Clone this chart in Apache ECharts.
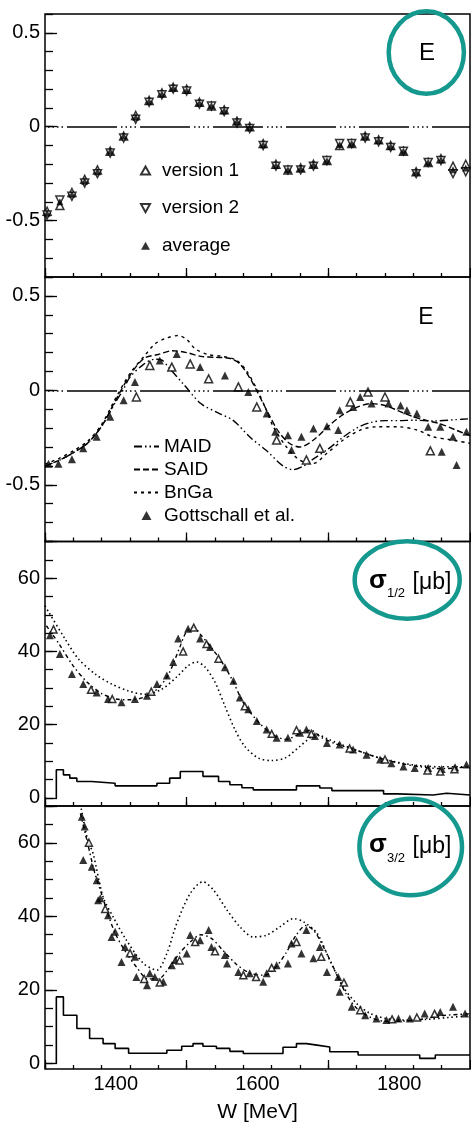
<!DOCTYPE html>
<html><head><meta charset="utf-8">
<script src="https://cdn.jsdelivr.net/npm/echarts@6/dist/echarts.min.js"></script>
<style>html,body{margin:0;padding:0;background:#fff}#c{width:471px;height:1124px}</style>
</head><body><div id="c"></div>
<script>
// ---------- X axis labels ----------
const xTickLabels = [1400, 1600, 1800];
const eTickLabels = [-0.5, 0, 0.5];
const sigmaTickLabels = [0, 20, 40, 60];

// ---------- Panel 1: E (version 1, version 2, average) ----------
const p1W = [1303,1321,1338,1356,1374,1392,1411,1428,1447,1465,1481,1500,1518,1535,1553,1571,1589,1608,1626,1643,1661,1679,1698,1716,1733,1752,1771,1788,1806,1824,1841,1859,1876,1894];
const p1Avg = [-0.46,-0.40,-0.36,-0.29,-0.24,-0.13,-0.05,0.05,0.135,0.174,0.206,0.193,0.126,0.112,0.085,0.028,-0.004,-0.096,-0.206,-0.229,-0.223,-0.202,-0.181,-0.096,-0.09,-0.052,-0.074,-0.105,-0.131,-0.243,-0.19,-0.176,-0.229,-0.22];
const p1V1 = [-0.45,-0.42,-0.35,-0.28,-0.23,-0.13,-0.05,0.06,0.14,0.18,0.21,0.20,0.13,0.11,0.09,0.03,0.00,-0.09,-0.20,-0.23,-0.22,-0.20,-0.18,-0.10,-0.09,-0.05,-0.07,-0.10,-0.13,-0.24,-0.19,-0.17,-0.21,-0.20];
const p1V2 = [-0.47,-0.39,-0.37,-0.30,-0.25,-0.14,-0.06,0.04,0.13,0.17,0.20,0.19,0.12,0.11,0.08,0.02,-0.01,-0.10,-0.21,-0.23,-0.23,-0.21,-0.18,-0.09,-0.09,-0.06,-0.08,-0.11,-0.13,-0.25,-0.19,-0.18,-0.25,-0.24];

// ---------- Panel 2: E with models ----------
const maidW = [1300,1320,1340,1360,1380,1400,1410,1420,1440,1455,1465,1475,1495,1520,1545,1566,1590,1613,1636,1650,1665,1680,1700,1720,1740,1760,1780,1800,1820,1850,1880,1900];
const maidE = [-0.40,-0.37,-0.33,-0.28,-0.19,-0.06,0.0,0.07,0.14,0.165,0.16,0.12,0.035,-0.07,-0.12,-0.16,-0.25,-0.32,-0.40,-0.42,-0.40,-0.36,-0.31,-0.25,-0.20,-0.17,-0.16,-0.16,-0.158,-0.162,-0.155,-0.15];
const saidW = [1300,1320,1340,1360,1380,1400,1420,1440,1460,1480,1500,1520,1540,1560,1575,1590,1600,1615,1630,1645,1660,1680,1700,1720,1740,1760,1780,1800,1820,1840,1860,1880,1900];
const saidE = [-0.40,-0.37,-0.33,-0.28,-0.19,-0.05,0.08,0.17,0.19,0.21,0.20,0.18,0.175,0.17,0.14,0.06,-0.01,-0.12,-0.22,-0.28,-0.30,-0.26,-0.19,-0.13,-0.09,-0.07,-0.08,-0.11,-0.14,-0.16,-0.18,-0.21,-0.24];
const bngaW = [1300,1320,1340,1360,1380,1400,1420,1440,1455,1470,1488,1500,1512,1530,1550,1570,1585,1600,1612,1622,1641,1660,1679,1698,1721,1745,1768,1800,1825,1848,1870,1900];
const bngaE = [-0.39,-0.36,-0.32,-0.27,-0.18,-0.04,0.09,0.18,0.245,0.275,0.29,0.27,0.22,0.19,0.18,0.16,0.10,0.0,-0.10,-0.19,-0.30,-0.37,-0.386,-0.333,-0.263,-0.21,-0.193,-0.193,-0.21,-0.246,-0.26,-0.28];
const gottW = [1305,1319,1338,1354,1373,1392,1411,1427,1462,1486,1519,1554,1587,1613,1625,1643,1648,1662,1679,1698,1714,1716,1735,1745,1761,1785,1802,1811,1825,1841,1858,1860,1876,1881,1895];
const gottE = [-0.389,-0.389,-0.365,-0.307,-0.246,-0.14,-0.053,0.044,0.158,0.193,0.123,0.079,-0.009,-0.123,-0.219,-0.237,-0.316,-0.246,-0.202,-0.19,-0.21,-0.105,-0.088,-0.035,-0.07,-0.07,-0.08,-0.105,-0.123,-0.193,-0.193,-0.325,-0.246,-0.395,-0.219];
const openW = [1429,1448,1479,1505,1531,1573,1599,1627,1669,1688,1731,1756,1780,1844];
const openE = [-0.035,0.132,0.123,0.14,0.061,0.018,-0.088,-0.263,-0.368,-0.307,-0.061,-0.009,-0.035,-0.32];

// ---------- Panel 3: sigma 1/2 ----------
const s12W = [1307,1321,1338,1354,1373,1389,1408,1427,1444,1458,1472,1481,1488,1502,1519,1533,1554,1566,1575,1587,1599,1613,1627,1643,1660,1669,1681,1698,1716,1735,1754,1773,1789,1806,1822,1841,1860,1879,1895];
const s12V = [44.4,39.3,33.8,31.1,28.8,27.0,26.1,27.0,27.9,31.1,33.4,37.1,43.5,46.2,43.5,41.2,35.7,32.0,27.4,24.2,21.0,18.7,16.4,16.4,17.8,18.7,16.9,15.0,14.6,13.2,11.8,10.5,9.5,8.6,8.2,8.2,7.9,8.4,9.1];
const s12oW = [1312,1365,1395,1450,1495,1510,1528,1545,1582,1620,1655,1676,1730,1780,1840,1858,1878];
const s12oV = [46,29.5,27,29,40,46.5,42,38,25,17.5,18.5,17.5,13.5,10.5,7.5,7.2,7.8];
const s12maidW = [1300,1305,1328,1347,1371,1394,1418,1441,1465,1488,1502,1514,1526,1540,1554,1568,1582,1601,1620,1640,1660,1684,1700,1740,1780,1820,1860,1900];
const s12maidV = [52.5,50.8,43.5,38.0,33.8,31.1,29.2,28.3,29.7,33.4,36.1,37.1,35.7,31.6,25.1,18.7,14.1,10.9,10.2,11.0,14.1,17.3,16.0,13.0,10.5,9.0,8.5,8.5];
const s12fitW = [1302,1320,1340,1360,1380,1400,1420,1440,1460,1475,1490,1500,1510,1520,1535,1550,1565,1580,1600,1620,1640,1660,1675,1690,1710,1740,1770,1800,1830,1860,1900];
const s12fitV = [47,42,36,31.5,28.5,27,26.8,27.5,30,34,41,45.5,46.5,44.5,41,37,32,26,21,17.5,16,17.5,18.5,16.5,14.8,13,11,9.5,8.5,8,8.5];
const h12W = [1316,1326,1335,1345,1366,1399,1458,1476,1491,1523,1545,1561,1578,1594,1655,1688,1705,1778,1797,1848,1867,1900];
const h12V = [7.7,6.3,5.4,4.5,4.0,3.3,4.0,5.4,7.2,5.9,4.5,3.6,2.8,2.2,3.3,2.7,2.0,1.1,0.8,1.3,0.8,0.8];

// ---------- Panel 4: sigma 3/2 ----------
const s32W = [1352,1354,1356,1366,1373,1375,1378,1389,1394,1399,1408,1413,1427,1429,1444,1448,1455,1467,1479,1484,1500,1505,1519,1531,1535,1554,1557,1573,1589,1608,1613,1627,1643,1648,1662,1669,1679,1688,1698,1714,1716,1733,1752,1768,1782,1799,1815,1836,1858,1876,1893];
const s32V = [67.1,55.3,64.4,53.5,49.8,44.4,44.9,40.3,34.4,35.8,27.6,31.7,29.0,23.5,21.3,24.5,23.5,22.2,26.7,28.1,29.9,34.9,33.5,36.3,31.7,29.5,27.2,24.9,24.5,22.2,24.5,26.7,27.2,32.6,29.9,36.3,28.6,31.7,24.9,23.5,19.5,15.4,13.1,12.2,11.8,12.2,12.2,13.6,14.0,15.4,13.6];
const s32oW = [1362,1385,1420,1440,1462,1490,1512,1540,1580,1598,1620,1655,1690,1722,1745,1790,1825,1850];
const s32oV = [60,42,30,23,22,28,33,30.5,24,23.5,26,33,29,22,14.5,12,12.5,13.5];
const s32maidW = [1350,1360,1368,1382,1396,1415,1439,1458,1472,1486,1505,1523,1538,1557,1575,1594,1613,1632,1651,1665,1684,1702,1721,1740,1759,1782,1810,1840,1870,1900];
const s32maidV = [70.5,61,57,45.3,39.9,33.5,27.2,25.4,29.9,38.1,46.2,49.4,47.1,41.7,37.2,34.4,34.9,37.2,39.4,38.5,35.4,28.1,20.8,16.3,13.6,12.2,11.8,12,12.5,13];
const s32fitW = [1350,1360,1370,1380,1390,1400,1415,1430,1445,1460,1475,1490,1505,1520,1535,1550,1570,1590,1610,1625,1640,1655,1668,1680,1695,1710,1725,1740,1760,1780,1800,1830,1860,1900];
const s32fitV = [68,60,52,46,40,35,30,26,23,23,26,30,33,35,34,31,27,24.5,24,26,30,35,37.5,36,31,25,19,15,12.5,11.5,11.5,12,13,13.5];
const h32W = [1316,1326,1345,1363,1382,1399,1418,1472,1493,1509,1523,1542,1561,1580,1636,1655,1669,1684,1702,1742,1829,1851,1900];
const h32V = [18.1,13.1,9.5,6.8,5.4,4.1,2.8,3.6,4.7,5.4,4.7,4.1,3.3,2.7,4.4,5.4,5.0,4.5,3.2,2.3,1.4,2.3,2.3];

// ---------- helpers ----------
const zip = (xs, ys) => xs.map((x, i) => [x, ys[i]]);
const hist = (xs, ys) => [[xs[0], 0]].concat(zip(xs, ys));
const FONT = "'Liberation Sans', Arial, Helvetica, sans-serif";
const INV_TRI = 'path://M0,0 L10,0 L5,9 Z';
const TRI = 'path://M5,0 L10,9 L0,9 Z';

// layout
const L = 45, R = 1;
const P = [
  {top: 14, height: 263},
  {top: 277, height: 264.5},
  {top: 541.5, height: 264.5, min: -2.2},
  {top: 806, height: 263, min: -1.5}
];
function grids() {
  const g = P.map(p => ({left: L, right: R, top: p.top, height: p.height, show: true,
    borderColor: '#000', borderWidth: 1.5, backgroundColor: 'transparent', outerBoundsMode: 'none'}));
  [0, 1].forEach(i => {
    const s = P[i].height / 1.4;
    g.push({left: L, right: R, top: P[i].top + 0.1 * s, height: s, show: false, outerBoundsMode: 'none'});
  });
  [2, 3].forEach(i => {
    const s = P[i].height / (70 - P[i].min);
    g.push({left: L, right: R, top: P[i].top, height: 70 * s, show: false, outerBoundsMode: 'none'});
  });
  return g;
}
const hidden = {show: false};
const xAxes = [];
for (let i = 0; i < 4; i++) {
  xAxes.push({type: 'value', gridIndex: i, min: 1300, max: 1900, interval: 100, position: 'bottom',
    axisLine: hidden, axisTick: hidden, splitLine: hidden,
    axisLabel: i === 3 ? {show: true, margin: 5, fontSize: 20, color: '#000', fontFamily: FONT,
      formatter: v => xTickLabels.includes(v) ? String(v) : ''} : hidden,
    name: i === 3 ? 'W [MeV]' : '', nameLocation: 'middle', nameGap: 33,
    nameTextStyle: {fontSize: 21, color: '#000', fontFamily: FONT}});
}
for (let i = 0; i < 4; i++) {
  xAxes.push({type: 'value', gridIndex: i, min: 0, max: 600, interval: 40, position: 'bottom',
    axisLine: hidden, axisLabel: hidden, splitLine: hidden,
    axisTick: {show: true, inside: true, length: 4, lineStyle: {color: '#000', width: 1.3}}});
}
for (let i = 0; i < 4; i++) {
  xAxes.push({type: 'value', gridIndex: i, min: 0, max: 600, interval: 200, position: 'bottom',
    axisLine: hidden, axisLabel: hidden, splitLine: hidden,
    axisTick: {show: true, inside: true, length: 9, lineStyle: {color: '#000', width: 1.3}}});
}
for (let i = 4; i < 8; i++) {
  xAxes.push({type: 'value', gridIndex: i, min: 0, max: 1, show: false});
}
const labelStyle = {show: true, margin: 5, fontSize: 20, color: '#000', fontFamily: FONT};
const near = (a, b) => Math.abs(a - b) < 1e-6;
const yAxes = [];
[0, 1].forEach(i => yAxes.push({type: 'value', gridIndex: i, min: -0.8, max: 0.6, interval: 0.1, position: 'left',
  axisLine: hidden, splitLine: hidden,
  axisTick: {show: true, inside: true, length: 8, lineStyle: {color: '#000', width: 1.3}},
  axisLabel: Object.assign({}, labelStyle, {formatter: v => {
    const m = eTickLabels.find(t => near(t, v));
    return m === undefined ? '' : String(m);
  }})}));
[2, 3].forEach(i => yAxes.push({type: 'value', gridIndex: i, min: P[i].min, max: 70, show: false}));
[4, 5].forEach(g => yAxes.push({type: 'value', gridIndex: g, min: -0.5, max: 0.5, interval: 0.5, position: 'left',
  axisLine: hidden, splitLine: hidden, axisLabel: hidden,
  axisTick: {show: true, inside: true, length: 12, lineStyle: {color: '#000', width: 1.3}}}));
[6, 7].forEach(g => yAxes.push({type: 'value', gridIndex: g, min: 0, max: 70, interval: 5, position: 'left',
  axisLine: hidden, splitLine: hidden,
  axisTick: {show: true, inside: true, length: 8, lineStyle: {color: '#000', width: 1.3}},
  axisLabel: Object.assign({}, labelStyle, {formatter: v => sigmaTickLabels.includes(v) ? String(v) : ''})}));
[6, 7].forEach(g => yAxes.push({type: 'value', gridIndex: g, min: 0, max: 70, interval: 20, position: 'left',
  axisLine: hidden, splitLine: hidden, axisLabel: hidden,
  axisTick: {show: true, inside: true, length: 12, lineStyle: {color: '#000', width: 1.3}}}));

const zeroLine = {silent: true, symbol: 'none', label: {show: false},
  lineStyle: {color: '#000', width: 1.5, type: [50, 4, 1.5, 3, 1.5, 3, 1.5, 3, 1.5, 4], dashOffset: 51},
  data: [{yAxis: 0}]};
const openStyle = {color: '#fff', borderColor: '#000', borderWidth: 1.5};
const filled = {color: '#000'};
function line(name, xi, yi, data, type, width, extra) {
  return Object.assign({name, type: 'line', xAxisIndex: xi, yAxisIndex: yi, data, symbol: 'none',
    smooth: 0.3, lineStyle: {color: '#000', width: width || 1.4, type}, itemStyle: {color: '#000'}, z: 2}, extra || {});
}
function scat(name, xi, yi, data, symbol, size, style, extra) {
  return Object.assign({name, type: 'scatter', xAxisIndex: xi, yAxisIndex: yi, data, symbol, symbolSize: size,
    itemStyle: style, z: 3}, extra || {});
}

const series = [
  // panel 1
  scat('version 1', 0, 0, zip(p1W, p1V1), 'triangle', 8, openStyle),
  scat('version 2', 0, 0, zip(p1W, p1V2), INV_TRI, 8, openStyle),
  scat('average', 0, 0, zip(p1W, p1Avg), 'triangle', 7, filled, {markLine: zeroLine, z: 4}),
  // panel 2
  line('MAID', 1, 1, zip(maidW, maidE), [8, 3, 1.5, 3, 1.5, 3]),
  line('SAID', 1, 1, zip(saidW, saidE), [6, 3]),
  line('BnGa', 1, 1, zip(bngaW, bngaE), [3, 4]),
  scat('Gottschall et al.', 1, 1, zip(gottW, gottE), 'triangle', 8, filled),
  scat('this work', 1, 1, zip(openW, openE), 'triangle', 8, openStyle, {markLine: zeroLine}),
  // panel 3
  line('MAID s12', 2, 2, zip(s12maidW, s12maidV), [1.5, 3], 1.6),
  line('fit s12', 2, 2, zip(s12fitW, s12fitV), [4, 3, 1.5, 3], 1.4),
  scat('data s12', 2, 2, zip(s12W, s12V), 'triangle', 8, filled),
  scat('open s12', 2, 2, zip(s12oW, s12oV), 'triangle', 7, openStyle),
  line('hist s12', 2, 2, hist(h12W, h12V), 'solid', 1.6, {step: 'end', smooth: false}),
  // panel 4
  line('MAID s32', 3, 3, zip(s32maidW, s32maidV), [1.5, 3], 1.6),
  line('fit s32', 3, 3, zip(s32fitW, s32fitV), [4, 3, 1.5, 3], 1.4),
  scat('data s32', 3, 3, zip(s32W, s32V), 'triangle', 8, filled),
  scat('open s32', 3, 3, zip(s32oW, s32oV), 'triangle', 7, openStyle),
  line('hist s32', 3, 3, hist(h32W, h32V), 'solid', 1.6, {step: 'end', smooth: false})
];

const legendText = {fontSize: 19, color: '#000', fontFamily: FONT, lineHeight: 20, padding: [0, 0, 0, 7]};
const noSym = {opacity: 0, color: 'rgba(0,0,0,0)', borderColor: 'rgba(0,0,0,0)', borderWidth: 0};
const legends = [
  {data: [{name: 'version 1', icon: TRI}, {name: 'version 2', icon: INV_TRI}, {name: 'average', icon: TRI}],
   orient: 'vertical', left: 140, top: 160.5, itemWidth: 9, itemHeight: 9, itemGap: 17.6, symbolKeepAspect: true,
   selectedMode: false, textStyle: legendText, padding: 0},
  {data: [{name: 'MAID', itemStyle: noSym}, {name: 'SAID', itemStyle: noSym}, {name: 'BnGa', itemStyle: noSym},
          {name: 'Gottschall et al.', icon: TRI}],
   orient: 'vertical', left: 133, top: 436.5, itemWidth: 25, itemHeight: 9, itemGap: 3, symbolKeepAspect: true,
   selectedMode: false, textStyle: Object.assign({}, legendText, {padding: [0, 0, 0, 0]}), padding: 0}
];

const TEAL = '#15998f';
const graphic = [
  {type: 'text', x: 427, y: 53, style: {text: 'E', fontSize: 24, fontFamily: FONT, fill: '#000', align: 'center', verticalAlign: 'middle'}},
  {type: 'text', x: 426, y: 318, style: {text: 'E', fontSize: 23, fontFamily: FONT, fill: '#000', align: 'center', verticalAlign: 'middle'}},
  {type: 'text', x: 378, y: 581, style: {text: 'σ', fontSize: 26, fontWeight: 'bold', fontFamily: FONT, fill: '#000', align: 'center', verticalAlign: 'middle'}},
  {type: 'text', x: 396, y: 593, style: {text: '1/2', fontSize: 13, fontFamily: FONT, fill: '#000', align: 'center', verticalAlign: 'middle'}},
  {type: 'text', x: 432, y: 583, style: {text: '[μb]', fontSize: 23, fontFamily: FONT, fill: '#000', align: 'center', verticalAlign: 'middle'}},
  {type: 'text', x: 378, y: 845, style: {text: 'σ', fontSize: 26, fontWeight: 'bold', fontFamily: FONT, fill: '#000', align: 'center', verticalAlign: 'middle'}},
  {type: 'text', x: 396, y: 858, style: {text: '3/2', fontSize: 13, fontFamily: FONT, fill: '#000', align: 'center', verticalAlign: 'middle'}},
  {type: 'text', x: 432, y: 847, style: {text: '[μb]', fontSize: 23, fontFamily: FONT, fill: '#000', align: 'center', verticalAlign: 'middle'}},
  {type: 'ellipse', shape: {cx: 426.3, cy: 52.5, rx: 37.6, ry: 41.2}, style: {fill: 'none', stroke: TEAL, lineWidth: 4.5}, z: 100},
  {type: 'ellipse', shape: {cx: 407.2, cy: 580, rx: 52.5, ry: 38.7}, style: {fill: 'none', stroke: TEAL, lineWidth: 4.5}, z: 100},
  {type: 'ellipse', shape: {cx: 410.7, cy: 847, rx: 51.3, ry: 48.3}, style: {fill: 'none', stroke: TEAL, lineWidth: 4.5}, z: 100}
];

const chart = echarts.init(document.getElementById('c'), null, {renderer: 'canvas'});
chart.setOption({
  animation: false,
  backgroundColor: '#fff',
  color: ['#000'],
  textStyle: {fontFamily: FONT},
  grid: grids(),
  xAxis: xAxes,
  yAxis: yAxes,
  legend: legends,
  series,
  graphic
});
</script></body></html>
